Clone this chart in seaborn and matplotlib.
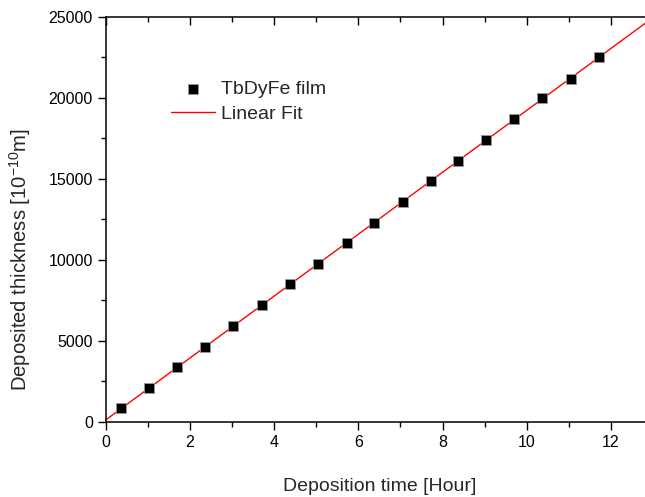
import matplotlib
matplotlib.use("Agg")
import matplotlib.pyplot as plt
import seaborn as sns
import pandas as pd
import numpy as np
from matplotlib.ticker import MultipleLocator

# data
time_h = [0.35, 1.03, 1.69, 2.36, 3.03, 3.71, 4.38, 5.05, 5.72,
          6.38, 7.05, 7.72, 8.36, 9.03, 9.70, 10.37, 11.05, 11.72]
thickness = [827, 2099, 3358, 4630, 5907, 7185, 8481, 9716, 11012,
             12284, 13562, 14839, 16093, 17389, 18700, 19963, 21180, 22494]
x_range = [0, 13]

sns.set_style("ticks")
plt.rcParams['font.family'] = ['Liberation Sans', 'DejaVu Sans']
plt.rcParams['mathtext.fontset'] = 'custom'
plt.rcParams['mathtext.rm'] = 'Liberation Sans'
plt.rcParams['mathtext.it'] = 'Liberation Sans'

df = pd.DataFrame({'t': time_h, 'd': thickness})
slope, icpt = np.polyfit(df['t'], df['d'], 1)
fit = pd.DataFrame({'t': x_range, 'd': [icpt + slope * v for v in x_range]})

fig = plt.figure(figsize=(6.45, 4.97), dpi=100)
ax = fig.add_axes([0.1643, 0.1515, 0.848, 0.815])

sns.lineplot(data=fit, x='t', y='d', ax=ax, color='red', lw=1.0, label='Linear Fit')
sns.scatterplot(data=df, x='t', y='d', ax=ax, marker='s', s=60, color='black',
                edgecolor='#999999', linewidth=0.6, label='TbDyFe film', zorder=3)

ax.set_xlim(0, 13)
ax.set_ylim(0, 25000)
ax.xaxis.set_major_locator(MultipleLocator(2))
ax.xaxis.set_minor_locator(MultipleLocator(1))
ax.yaxis.set_major_locator(MultipleLocator(5000))
ax.yaxis.set_minor_locator(MultipleLocator(2500))

for s in ax.spines.values():
    s.set_linewidth(1.1)
    s.set_color('black')
ax.tick_params(which='both', direction='out', width=1.0, labelsize=11.5, colors='black')
ax.tick_params(which='major', length=6)
ax.tick_params(which='minor', length=3.5)
ax.tick_params(which='both', top=True, right=True)
# top/right ticks point inwards
for t in ax.xaxis.get_major_ticks() + ax.xaxis.get_minor_ticks():
    t.tick2line.set_marker(3)
for t in ax.yaxis.get_major_ticks() + ax.yaxis.get_minor_ticks():
    t.tick2line.set_marker(0)

ax.set_xlabel('Deposition time [Hour]', fontsize=14)
ax.set_ylabel('Deposited thickness [10$^{-10}$m]', fontsize=14.6)
ax.xaxis.set_label_coords(0.5, -0.14)
ax.yaxis.set_label_coords(-0.133, 0.40)

h, l = ax.get_legend_handles_labels()
ax.legend(h[::-1], l[::-1], loc='upper left', bbox_to_anchor=(171 / 645, 1 - 80 / 497),
          bbox_transform=fig.transFigure, borderaxespad=0, borderpad=0,
          frameon=False, fontsize=14, handlelength=2.26, handletextpad=0.3,
          labelspacing=0.38)

fig.savefig('out.png', dpi=100)
